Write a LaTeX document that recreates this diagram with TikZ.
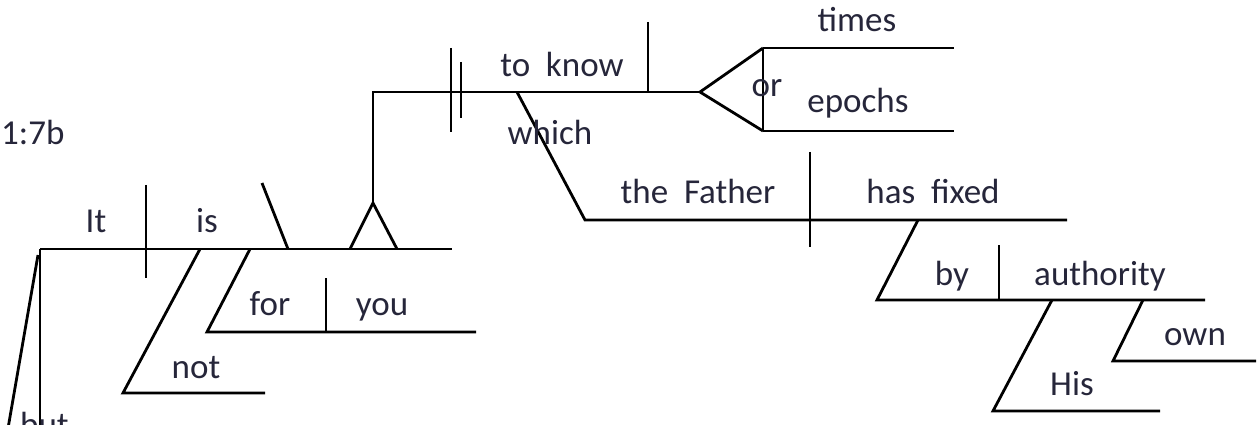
\documentclass[tikz,border=0pt]{standalone}
\usepackage{fontspec}
\setmainfont{Carlito}
\definecolor{wordcol}{RGB}{38,38,58}
\begin{document}
\begin{tikzpicture}[x=1pt,y=-1pt,
  ln/.style={line width=2.8pt,black},
  wd/.style={inner sep=0pt,anchor=base,font=\fontsize{35}{35}\selectfont,text=wordcol}]
\useasboundingbox (0,0) rectangle (1259,425);
% coordinates
\coordinate (m0) at (40,249); \coordinate (m1) at (452,249);
\coordinate (bv) at (40,440);
\coordinate (bs0) at (38,255); \coordinate (bs1) at (6,440);
\coordinate (d1a) at (146,185); \coordinate (d1b) at (146,278);
\coordinate (pc0) at (262,183); \coordinate (pc1) at (288,249);
\coordinate (ns0) at (200,249); \coordinate (ns1) at (123,393); \coordinate (ns2) at (265,393);
\coordinate (fs0) at (250,249); \coordinate (fs1) at (207,332); \coordinate (fs2) at (476,332);
\coordinate (fd0) at (326,278); \coordinate (fd1) at (326,332);
\coordinate (pl) at (350,249); \coordinate (pr) at (397,249); \coordinate (pa) at (373,203);
\coordinate (pt) at (373,92); \coordinate (ie) at (700,92);
\coordinate (b1a) at (451,48); \coordinate (b1b) at (451,132);
\coordinate (b2a) at (461,62); \coordinate (b2b) at (461,118);
\coordinate (kd0) at (648,22); \coordinate (kd1) at (648,92);
\coordinate (wh0) at (517,92); \coordinate (wh1) at (585,220); \coordinate (wh2) at (1067,220);
\coordinate (fd2) at (810,152); \coordinate (fd3) at (810,247);
\coordinate (ft) at (763,48); \coordinate (fb) at (763,131);
\coordinate (ft1) at (954,48); \coordinate (fb1) at (954,131);
\coordinate (by0) at (918,220); \coordinate (by1) at (877,300); \coordinate (by2) at (1205,300);
\coordinate (bd0) at (999,245); \coordinate (bd1) at (999,300);
\coordinate (hs0) at (1052,300); \coordinate (hs1) at (993,411); \coordinate (hs2) at (1160,411);
\coordinate (os0) at (1143,300); \coordinate (os1) at (1113,361); \coordinate (os2) at (1256,361);
% lines
\draw[ln] (m0) -- (m1);
\draw[ln] (m0) -- (bv);
\draw[ln] (bs0) -- (bs1);
\draw[ln] (d1a) -- (d1b);
\draw[ln] (pc0) -- (pc1);
\draw[ln] (ns0) -- (ns1) -- (ns2);
\draw[ln] (fs0) -- (fs1) -- (fs2);
\draw[ln] (fd0) -- (fd1);
\draw[ln] (pl) -- (pa) -- (pr);
\draw[ln] (pa) -- (pt) -- (ie);
\draw[ln] (b1a) -- (b1b);
\draw[ln] (b2a) -- (b2b);
\draw[ln] (kd0) -- (kd1);
\draw[ln] (wh0) -- (wh1) -- (wh2);
\draw[ln] (fd2) -- (fd3);
\draw[ln] (ft) -- (ie) -- (fb);
\draw[ln] (ft) -- (fb);
\draw[ln] (ft) -- (ft1);
\draw[ln] (fb) -- (fb1);
\draw[ln] (by0) -- (by1) -- (by2);
\draw[ln] (bd0) -- (bd1);
\draw[ln] (hs0) -- (hs1) -- (hs2);
\draw[ln] (os0) -- (os1) -- (os2);
% words
\node[wd,anchor=base west] (ref) at (1,145) {1:7b};
\node[wd,anchor=base west] (but) at (20,436) {but};
\node[wd] (it) at (96,232) {It};
\node[wd] (is) at (207,232) {is};
\node[wd] (not) at (196,378) {not};
\node[wd] (for) at (270,315) {for};
\node[wd] (you) at (382,315) {you};
\node[wd] (know) at (562,77) {to\ \ know};
\node[wd] (which) at (550,145) {which};
\node[wd] (times) at (857,32) {times};
\node[wd] (or) at (767,97) {or};
\node[wd] (epochs) at (858,113) {epochs};
\node[wd] (father) at (698,204) {the\ \ Father};
\node[wd] (fixed) at (933,204) {has\ \ fixed};
\node[wd] (byw) at (952,285) {by};
\node[wd] (auth) at (1100,285) {authority};
\node[wd] (his) at (1072,395) {His};
\node[wd] (own) at (1195,345) {own};
\end{tikzpicture}
\end{document}
